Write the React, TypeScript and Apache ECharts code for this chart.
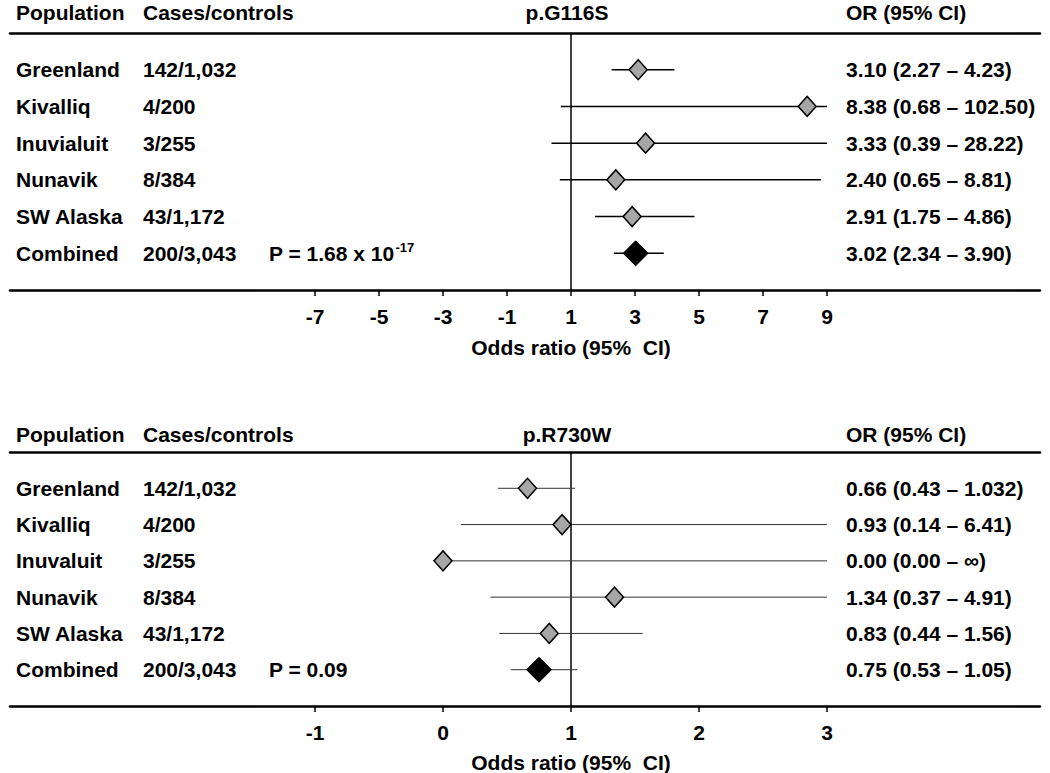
import React, { useEffect, useRef } from "react";
import * as echarts from "echarts";

// ---------- data ----------
const populationsA = ["Greenland", "Kivalliq", "Inuvialuit", "Nunavik", "SW Alaska", "Combined"];
const casesA = ["142/1,032", "4/200", "3/255", "8/384", "43/1,172", "200/3,043"];
const orA = [3.1, 8.38, 3.33, 2.4, 2.91, 3.02];
const loA = [2.27, 0.68, 0.39, 0.65, 1.75, 2.34];
const hiA = [4.23, 102.5, 28.22, 8.81, 4.86, 3.9];
const orLabelsA = [
  "3.10 (2.27 – 4.23)",
  "8.38 (0.68 – 102.50)",
  "3.33 (0.39 – 28.22)",
  "2.40 (0.65 – 8.81)",
  "2.91 (1.75 – 4.86)",
  "3.02 (2.34 – 3.90)",
];
const ticksA = [-7, -5, -3, -1, 1, 3, 5, 7, 9];
const pMainA = "P = 1.68 x 10";
const pSupA = "-17";
const titleA = "p.G116S";

const populationsB = ["Greenland", "Kivalliq", "Inuvaluit", "Nunavik", "SW Alaska", "Combined"];
const casesB = ["142/1,032", "4/200", "3/255", "8/384", "43/1,172", "200/3,043"];
const orB = [0.66, 0.93, 0.0, 1.34, 0.83, 0.75];
const loB = [0.43, 0.14, 0.0, 0.37, 0.44, 0.53];
const hiB = [1.032, 6.41, Infinity, 4.91, 1.56, 1.05];
const orLabelsB = [
  "0.66 (0.43 – 1.032)",
  "0.93 (0.14 – 6.41)",
  "0.00 (0.00 – ∞)",
  "1.34 (0.37 – 4.91)",
  "0.83 (0.44 – 1.56)",
  "0.75 (0.53 – 1.05)",
];
const ticksB = [-1, 0, 1, 2, 3];
const pMainB = "P = 0.09";
const pSupB = "";
const titleB = "p.R730W";

const FONT_FAMILY = '"Liberation Sans", Arial, Helvetica, sans-serif';
const FS = 21;
const FONT = `bold ${FS}px ${FONT_FAMILY}`;

export default function App() {
  const ref = useRef<HTMLDivElement>(null);

  useEffect(() => {
    document.body.style.margin = "0";
    if (!ref.current) return;
    const chart = echarts.init(ref.current, undefined, { renderer: "svg" });

    const gridLeft = 10;
    const gridWidth = 1030;
    const refX = 571; // pixel of OR = 1

    const panels = [
      {
        pops: populationsA, cases: casesA, or: orA, lo: loA, hi: hiA, labels: orLabelsA,
        ticks: ticksA, clipMax: 9, pxPerUnit: 32, top: 33, height: 257, headerY: 12,
        axisTitleY: 347, pMain: pMainA, pSup: pSupA, title: titleA, ciWidth: 1.5, ciColor: "#000",
      },
      {
        pops: populationsB, cases: casesB, or: orB, lo: loB, hi: hiB, labels: orLabelsB,
        ticks: ticksB, clipMax: 3, pxPerUnit: 128, top: 452, height: 254, headerY: 434,
        axisTitleY: 762, pMain: pMainB, pSup: pSupB, title: titleB, ciWidth: 1, ciColor: "#333",
      },
    ];

    const grids: any[] = [];
    const xAxes: any[] = [];
    const yAxes: any[] = [];
    const series: any[] = [];
    const graphics: any[] = [];

    const canvas = document.createElement("canvas");
    const ctx = canvas.getContext("2d")!;
    ctx.font = FONT;

    panels.forEach((p, pi) => {
      const min = 1 - (refX - gridLeft) / p.pxPerUnit;
      const max = min + gridWidth / p.pxPerUnit;
      grids.push({ left: gridLeft, width: gridWidth, top: p.top, height: p.height });

      xAxes.push({
        type: "value",
        gridIndex: pi,
        min,
        max,
        position: "bottom",
        axisLine: { show: true, onZero: false, lineStyle: { color: "#000", width: 2.5 } },
        axisTick: { show: true, customValues: p.ticks, length: 6, lineStyle: { color: "#000", width: 1.5 } },
        axisLabel: {
          show: true,
          customValues: p.ticks,
          color: "#000",
          fontSize: FS,
          fontWeight: "bold",
          fontFamily: FONT_FAMILY,
          margin: 16,
        },
        splitLine: { show: false },
      });
      xAxes.push({
        type: "value",
        gridIndex: pi,
        min,
        max,
        position: "top",
        axisLine: { show: true, onZero: false, lineStyle: { color: "#000", width: 2.5 } },
        axisTick: { show: false },
        axisLabel: { show: false },
        splitLine: { show: false },
      });
      yAxes.push({ type: "value", gridIndex: pi, min: -1, max: 6, inverse: true, show: false });

      const xIdx = pi * 2;
      const ciData = p.or.map((_, i) => [Math.max(p.lo[i], min), Math.min(p.hi[i], p.clipMax), i]);
      series.push({
        type: "custom",
        xAxisIndex: xIdx,
        yAxisIndex: pi,
        data: ciData,
        encode: { x: [0, 1], y: 2 },
        z: 2,
        clip: false,
        silent: true,
        renderItem: (params: any, api: any) => {
          const a = api.coord([api.value(0), api.value(2)]);
          const b = api.coord([api.value(1), api.value(2)]);
          return {
            type: "line",
            shape: { x1: a[0], y1: a[1], x2: b[0], y2: b[1] },
            style: { stroke: p.ciColor, lineWidth: p.ciWidth },
          };
        },
      });
      series.push({
        type: "scatter",
        xAxisIndex: xIdx,
        yAxisIndex: pi,
        z: 3,
        silent: true,
        symbol: "diamond",
        itemStyle: { opacity: 1 },
        data: p.or.map((v, i) => {
          const combined = i === p.or.length - 1;
          return {
            value: [v, i],
            symbolSize: combined ? [25, 25] : [18, 20],
            itemStyle: combined
              ? { color: "#000", borderColor: "#000", borderWidth: 1, opacity: 1 }
              : { color: "#a6a6a6", borderColor: "#000", borderWidth: 1.5, opacity: 1 },
          };
        }),
        markLine: {
          silent: true,
          symbol: ["none", "none"],
          label: { show: false },
          lineStyle: { color: "#000", width: 1.5, type: "solid", opacity: 1 },
          data: [{ xAxis: 1 }],
          z: 1,
        },
      });

      const rowH = p.height / 7;
      const rowY = (i: number) => p.top + (i + 1) * rowH;
      const txt = (text: string, x: number, y: number, align = "left", font = FONT) => ({
        type: "text",
        x,
        y,
        silent: true,
        style: {
          text,
          fill: "#000",
          font,
          align,
          verticalAlign: "middle",
          textAlign: align,
          textVerticalAlign: "middle",
        },
      });

      graphics.push(txt("Population", 16, p.headerY));
      graphics.push(txt("Cases/controls", 143, p.headerY));
      graphics.push(txt(p.title, 567, p.headerY, "center"));
      graphics.push(txt("OR (95% CI)", 846, p.headerY));

      p.pops.forEach((name, i) => {
        graphics.push(txt(name, 16, rowY(i)));
        graphics.push(txt(p.cases[i], 143, rowY(i)));
        graphics.push(txt(p.labels[i], 846, rowY(i)));
      });
      const cy = rowY(p.pops.length - 1);
      graphics.push(txt(p.pMain, 269, cy));
      if (p.pSup) {
        const w = ctx.measureText(p.pMain).width;
        graphics.push(txt(p.pSup, 269 + w + 1, cy - 6, "left", `bold 13px ${FONT_FAMILY}`));
      }
      graphics.push(txt("Odds ratio (95%  CI)", refX, p.axisTitleY, "center"));
    });

    chart.setOption({
      animation: false,
      backgroundColor: "#fff",
      grid: grids,
      xAxis: xAxes,
      yAxis: yAxes,
      series,
      graphic: graphics,
    });

    return () => chart.dispose();
  }, []);

  return <div ref={ref} style={{ width: 1050, height: 773 }} />;
}
